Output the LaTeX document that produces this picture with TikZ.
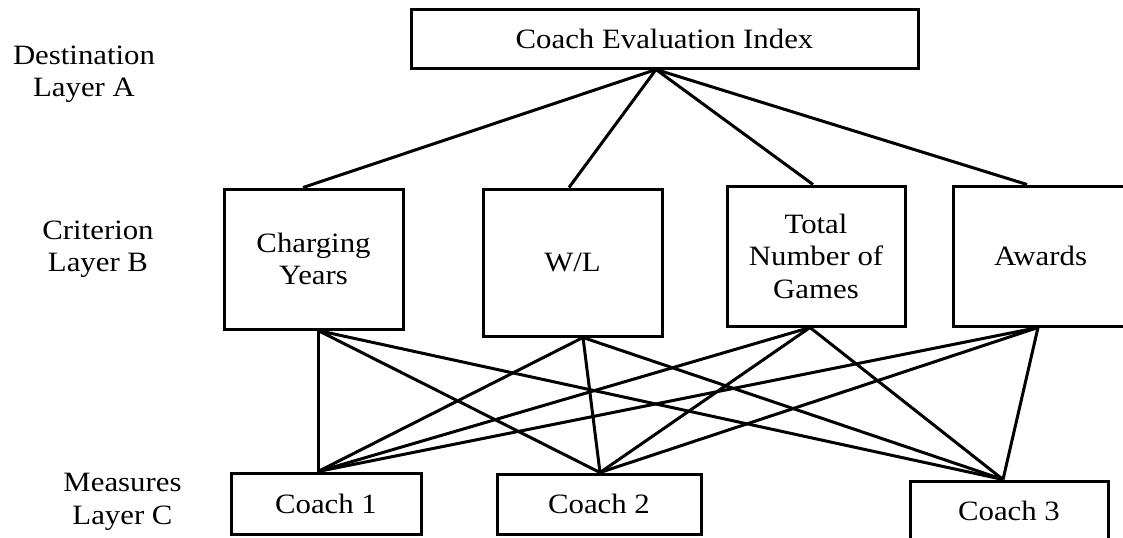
\documentclass[tikz,border=0pt]{standalone}
\usepackage{fontspec}
\setmainfont{Liberation Serif}[FakeStretch=1.1]
\usepackage{tikz}
\tikzset{layerbox/.style={draw, line width=1.5pt, align=center, inner sep=0pt, font=\fontsize{14pt}{16.25pt}\selectfont}}
\tikzset{layername/.style={align=center, inner sep=0pt, font=\fontsize{14pt}{16.25pt}\selectfont}}

\begin{document}
\begin{tikzpicture}[x=0.5pt, y=-0.5pt, line width=1.5pt]
\useasboundingbox (0,0) rectangle (1123,537);
\clip (0,0) rectangle (1123,537);
\node[layername] (lA) at (84,74) {Destination\\Layer A};
\node[layername] (lB) at (98,249) {Criterion\\Layer B};
\node[layername] (lC) at (122.5,502) {Measures\\Layer C};
\node[layerbox, minimum width=253.5pt, minimum height=29.5pt] (cei) at (664.5,38.5) {Coach Evaluation Index};
\node[layerbox, minimum width=89.5pt, minimum height=70pt] (cy) at (313.5,259) {Charging\\Years};
\node[layerbox, minimum width=89.5pt, minimum height=73.5pt] (wl) at (572.5,262.5) {W/L};
\node[layerbox, minimum width=89pt, minimum height=70pt] (tng) at (816,256) {Total\\Number of\\Games};
\node[layerbox, minimum width=87.5pt, minimum height=70pt] (aw) at (1040.5,256) {Awards};
\node[layerbox, minimum width=95pt, minimum height=30.5pt] (c1) at (326,503.5) {Coach 1};
\node[layerbox, minimum width=102pt, minimum height=30pt] (c2) at (599,504) {Coach 2};
\node[layerbox, minimum width=99pt, minimum height=30pt] (c3) at (1009,511) {Coach 3};
% connection points
\coordinate (cei-s) at ([xshift=-4.25pt]cei.south);
\coordinate (cy-n) at ([xshift=-5.25pt]cy.north);
\coordinate (cy-s) at ([xshift=2.25pt]cy.south);
\coordinate (wl-n) at ([xshift=-1.75pt]wl.north);
\coordinate (wl-s) at ([xshift=5.25pt]wl.south);
\coordinate (tng-n) at ([xshift=-1.5pt]tng.north);
\coordinate (tng-s) at ([xshift=-3pt]tng.south);
\coordinate (aw-n) at ([xshift=-6.75pt]aw.north);
\coordinate (aw-s) at ([xshift=-1.25pt]aw.south);
\coordinate (c1-n) at ([xshift=-4pt]c1.north);
\coordinate (c2-n) at ([xshift=0.5pt]c2.north);
\coordinate (c3-n) at ([xshift=-3pt]c3.north);
% layer A to layer B
\draw (cei-s) -- (cy-n);
\draw (cei-s) -- (wl-n);
\draw (cei-s) -- (tng-n);
\draw (cei-s) -- (aw-n);
% layer B to layer C
\draw (cy-s) -- (c1-n);
\draw (cy-s) -- (c2-n);
\draw (cy-s) -- (c3-n);
\draw (wl-s) -- (c1-n);
\draw (wl-s) -- (c2-n);
\draw (wl-s) -- (c3-n);
\draw (tng-s) -- (c1-n);
\draw (tng-s) -- (c2-n);
\draw (tng-s) -- (c3-n);
\draw (aw-s) -- (c1-n);
\draw (aw-s) -- (c2-n);
\draw (aw-s) -- (c3-n);
\end{tikzpicture}
\end{document}
